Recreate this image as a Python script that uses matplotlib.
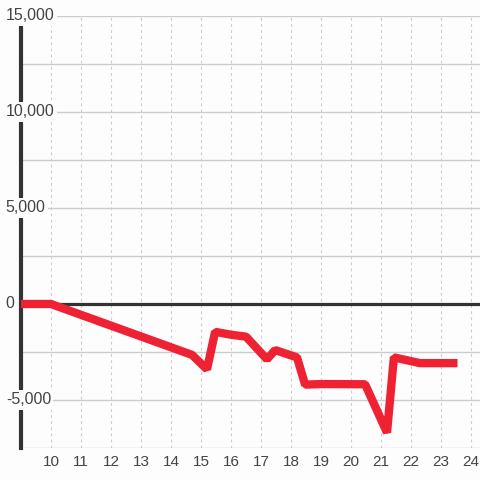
import numpy as np
import matplotlib.pyplot as plt

# values
xs = [9, 10, 14.7, 15.2, 15.47, 16.0, 16.5, 17.2, 17.47, 18.2, 18.47, 19.0, 20.47, 21.2, 21.43, 22.3, 23.55]
ys = [0, 0, -2650, -3400, -1450, -1600, -1700, -2880, -2400, -2780, -4200, -4170, -4180, -6700, -2780, -3080, -3080]

x_ticks = list(range(10, 25))
y_ticks = [15000, 10000, 5000, 0, -5000]
y_labels = ['15,000', '10,000', '5,000', '0', '-5,000']

bg = '#fcfdfc'
txt = '#333333'

fig = plt.figure(figsize=(4.8, 4.8), dpi=100, facecolor=bg)
ax = fig.add_axes([21/480, 32/480, 459/480, 432/480], facecolor=bg)
ax.set_xlim(9, 24.3)
ax.set_ylim(-7500, 15000)

for s in ['top', 'right', 'bottom']:
    ax.spines[s].set_visible(False)
ax.spines['left'].set_color(txt)
ax.spines['left'].set_linewidth(3)
ax.spines['left'].set_zorder(3)

# grid
for gy in np.arange(-7500, 15001, 2500):
    ax.axhline(gy, color='#cccccc', lw=1, zorder=1)
for gx in x_ticks:
    ax.axvline(gx, color='#cccccc', lw=0.8, ls=(0, (2.5, 3)), zorder=1)
ax.axhline(0, color=txt, lw=2.3, zorder=2)

ax.plot(xs, ys, color='#ee2233', lw=6, solid_joinstyle='bevel', solid_capstyle='butt', zorder=4)

ax.set_xticks(x_ticks)
ax.set_xticklabels([str(t) for t in x_ticks], fontsize=11, color='#444444', family='Liberation Sans')
ax.tick_params(axis='x', length=0, pad=5)
ax.set_yticks([])

for v, lab in zip(y_ticks, y_labels):
    ax.text(-0.033, v, lab, transform=ax.get_yaxis_transform(), ha='left', va='center',
            fontsize=11.5, color='#444444', family='Liberation Sans', zorder=5, clip_on=False,
            bbox=dict(facecolor=bg, edgecolor='none', pad=1.5))

fig.savefig('out.png', dpi=100, facecolor=bg)
